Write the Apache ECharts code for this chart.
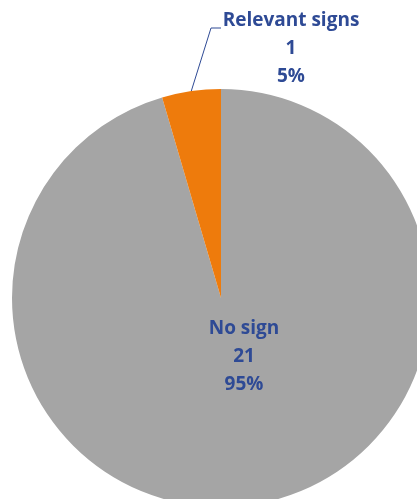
<!DOCTYPE html>
<html>
<head>
<meta charset="utf-8">
<script src="https://cdn.jsdelivr.net/npm/echarts@6/dist/echarts.min.js"></script>
<style>html,body{margin:0;padding:0;background:#fff}#c{width:417px;height:499px}</style>
</head>
<body>
<div id="c"></div>
<script>
var categories = ['No sign', 'Relevant signs'];
var values = [21, 1];
var colors = ['#A5A5A5', '#EE7B0C'];

var chart = echarts.init(document.getElementById('c'), null, {renderer: 'canvas'});
var textColor = '#2E4A95';
chart.setOption({
  animation: false,
  series: [{
    type: 'pie',
    center: [221, 298],
    radius: 209,
    startAngle: 90,
    clockwise: true,
    percentPrecision: 0,
    avoidLabelOverlap: false,
    data: categories.map(function (c, i) {
      return {
        name: c, value: values[i],
        itemStyle: {color: colors[i]},
        label: {position: i === 0 ? 'inside' : 'outside'},
        labelLine: {show: i === 1}
      };
    }),
    label: {
      formatter: '{b}\n{c}\n{d}%',
      fontFamily: 'Open Sans',
      fontWeight: 'bold',
      fontSize: 19,
      lineHeight: 28,
      color: textColor,
      align: 'center'
    },
    labelLine: {lineStyle: {color: textColor, width: 1}, length: 10, length2: 10},
    emphasis: {disabled: true},
    labelLayout: function (p) {
      if (p.dataIndex === 1) {
        var s = p.labelLinePoints ? p.labelLinePoints[0] : [191, 92];
        return {x: 291, y: 49, align: 'center', verticalAlign: 'middle',
          labelLinePoints: [s, [211, 28], [221, 28]]};
      }
      return {x: 244, y: 357, align: 'center', verticalAlign: 'middle'};
    }
  }]
});
</script>
</body>
</html>
